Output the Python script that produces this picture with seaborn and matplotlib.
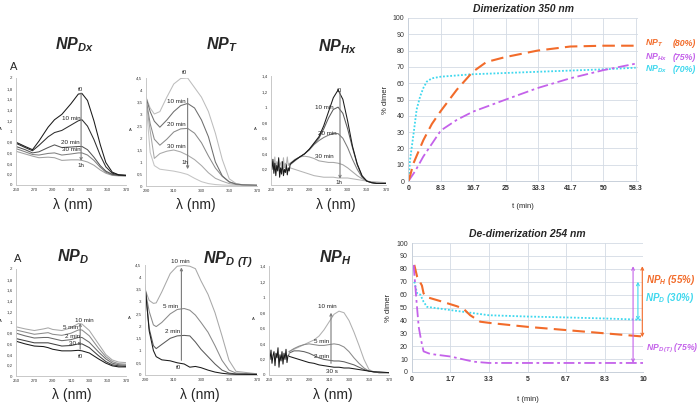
import numpy as np
import matplotlib
matplotlib.use("Agg")
import matplotlib.pyplot as plt
import seaborn as sns

# ---------------- data ----------------
# NP_Dx spectra (top left)
dx_wl = [250, 260, 268, 275, 285, 292, 300, 310, 318, 322, 328, 335, 342, 348, 355, 362, 370]
dx_t0 = [0.80, 0.72, 0.66, 0.82, 1.08, 1.22, 1.32, 1.52, 1.70, 1.71, 1.58, 1.20, 0.75, 0.42, 0.24, 0.19, 0.18]
dx_10 = [0.78, 0.70, 0.64, 0.74, 0.90, 0.98, 1.02, 1.12, 1.20, 1.22, 1.10, 0.85, 0.55, 0.34, 0.22, 0.19, 0.18]
dx_20 = [0.72, 0.66, 0.60, 0.62, 0.70, 0.75, 0.70, 0.71, 0.72, 0.72, 0.66, 0.52, 0.36, 0.26, 0.20, 0.18, 0.18]
dx_30 = [0.68, 0.62, 0.57, 0.56, 0.59, 0.60, 0.56, 0.58, 0.60, 0.60, 0.56, 0.46, 0.33, 0.24, 0.19, 0.18, 0.17]
dx_1h = [0.63, 0.58, 0.54, 0.51, 0.52, 0.51, 0.46, 0.47, 0.47, 0.46, 0.43, 0.37, 0.28, 0.22, 0.18, 0.17, 0.17]

# NP_T spectra
t_wl = [290, 293, 296, 300, 305, 310, 315, 320, 325, 330, 335, 340, 345, 350, 355, 360, 370]
t_t0 = [3.70, 3.25, 3.00, 3.10, 3.70, 4.25, 4.48, 4.50, 4.10, 3.70, 3.10, 2.20, 1.10, 0.30, 0.10, 0.05, 0.03]
t_10 = [3.70, 3.10, 2.70, 2.45, 2.75, 3.10, 3.35, 3.44, 3.25, 2.75, 2.05, 1.00, 0.42, 0.17, 0.08, 0.05, 0.03]
t_20 = [3.65, 2.60, 1.95, 1.70, 1.95, 2.25, 2.38, 2.40, 2.20, 1.80, 1.25, 0.75, 0.40, 0.17, 0.08, 0.05, 0.03]
t_30 = [3.55, 2.30, 1.15, 1.35, 1.45, 1.50, 1.42, 1.28, 1.10, 0.85, 0.55, 0.32, 0.20, 0.10, 0.06, 0.04, 0.03]
t_1h = [3.50, 1.40, 0.85, 0.70, 0.66, 0.62, 0.56, 0.48, 0.32, 0.18, 0.10, 0.06, 0.04, 0.03, 0.03, 0.02, 0.02]

# NP_Hx spectra (noisy part below 270 nm kept separately)
noise_wl = [250, 251, 252, 253, 254, 255, 256, 257, 258, 259, 260,
            261, 262, 263, 264, 265, 266, 267, 268, 269, 270]
hx_noise_dark = [0.30, 0.20, 0.33, 0.15, 0.28, 0.12, 0.25, 0.18, 0.35, 0.10, 0.22,
                 0.14, 0.30, 0.12, 0.20, 0.16, 0.26, 0.13, 0.22, 0.18, 0.27]
hx_noise_light = [0.34, 0.26, 0.30, 0.22, 0.36, 0.20, 0.30, 0.25, 0.33, 0.22, 0.28,
                  0.30, 0.24, 0.35, 0.22, 0.28, 0.26, 0.36, 0.25, 0.28, 0.27]
hx_wl = [270, 275, 280, 285, 290, 295, 300, 305, 310, 315, 320, 325, 330, 335, 340, 345, 350, 355, 360, 370]
hx_t0 = [0.27, 0.32, 0.36, 0.40, 0.46, 0.54, 0.62, 0.76, 0.94, 1.12, 1.22, 1.10, 0.82, 0.50, 0.27, 0.12, 0.05, 0.03, 0.02, 0.02]
hx_10 = [0.27, 0.32, 0.36, 0.40, 0.46, 0.53, 0.60, 0.72, 0.86, 0.97, 1.00, 0.92, 0.72, 0.48, 0.26, 0.11, 0.05, 0.03, 0.02, 0.02]
hx_20 = [0.26, 0.31, 0.36, 0.40, 0.45, 0.52, 0.57, 0.61, 0.64, 0.66, 0.66, 0.60, 0.48, 0.33, 0.20, 0.10, 0.05, 0.03, 0.02, 0.02]
hx_30 = [0.28, 0.33, 0.36, 0.37, 0.36, 0.34, 0.31, 0.30, 0.29, 0.29, 0.28, 0.26, 0.22, 0.17, 0.12, 0.08, 0.05, 0.04, 0.03, 0.03]
hx_1h = [0.22, 0.20, 0.18, 0.16, 0.14, 0.12, 0.11, 0.10, 0.10, 0.10, 0.09, 0.09, 0.09, 0.08, 0.07, 0.06, 0.05, 0.04, 0.04, 0.03]

# NP_D spectra (bottom left)
d_wl = [250, 260, 270, 280, 285, 290, 300, 310, 318, 322, 330, 340, 348, 355, 362, 370]
d_10m = [0.92, 0.88, 0.85, 0.88, 0.90, 0.87, 0.85, 0.90, 0.98, 0.97, 0.85, 0.60, 0.40, 0.30, 0.26, 0.25]
d_5m = [0.86, 0.82, 0.78, 0.80, 0.81, 0.78, 0.76, 0.80, 0.86, 0.86, 0.75, 0.52, 0.36, 0.27, 0.23, 0.22]
d_2m = [0.80, 0.75, 0.71, 0.72, 0.72, 0.70, 0.66, 0.68, 0.72, 0.72, 0.63, 0.45, 0.32, 0.24, 0.21, 0.20]
d_30s = [0.70, 0.66, 0.62, 0.62, 0.62, 0.60, 0.56, 0.57, 0.60, 0.60, 0.53, 0.38, 0.27, 0.21, 0.19, 0.18]
d_t0 = [0.65, 0.60, 0.56, 0.55, 0.53, 0.50, 0.47, 0.47, 0.48, 0.47, 0.43, 0.32, 0.24, 0.19, 0.17, 0.17]

# NP_D(T) spectra
dt_wl = [290, 293, 296, 298, 302, 308, 313, 318, 322, 326, 330, 335, 340, 345, 350, 355, 370]
dt_10m = [3.50, 3.05, 2.93, 2.95, 3.40, 4.15, 4.45, 4.48, 4.45, 4.35, 3.85, 3.30, 2.55, 1.60, 0.60, 0.15, 0.05]
dt_5m = [3.50, 2.60, 2.05, 1.98, 2.15, 2.50, 2.68, 2.72, 2.65, 2.45, 2.15, 1.75, 1.20, 0.60, 0.20, 0.08, 0.04]
dt_2m = [3.60, 1.90, 1.20, 1.08, 1.25, 1.50, 1.60, 1.62, 1.60, 1.35, 1.05, 0.75, 0.45, 0.20, 0.08, 0.04, 0.03]
dt_t0 = [3.70, 1.80, 1.00, 0.75, 0.62, 0.58, 0.50, 0.45, 0.32, 0.35, 0.30, 0.20, 0.12, 0.07, 0.04, 0.03, 0.02]

# NP_H spectra
h_noise = [0.28, 0.20, 0.32, 0.15, 0.25, 0.30, 0.12, 0.28, 0.22, 0.35, 0.10,
           0.26, 0.18, 0.30, 0.14, 0.28, 0.20, 0.33, 0.16, 0.25, 0.26]
h_wl = [270, 275, 280, 285, 290, 295, 300, 305, 310, 315, 320, 325, 330, 335, 340, 345, 350, 355, 360, 370]
h_10m = [0.30, 0.33, 0.36, 0.39, 0.42, 0.45, 0.50, 0.58, 0.68, 0.78, 0.82, 0.80, 0.70, 0.55, 0.38, 0.20, 0.07, 0.04, 0.03, 0.03]
h_5m = [0.30, 0.34, 0.37, 0.39, 0.40, 0.39, 0.38, 0.38, 0.39, 0.40, 0.39, 0.36, 0.30, 0.22, 0.15, 0.09, 0.05, 0.04, 0.03, 0.03]
h_2m = [0.28, 0.31, 0.31, 0.30, 0.28, 0.25, 0.22, 0.20, 0.19, 0.18, 0.18, 0.17, 0.15, 0.13, 0.10, 0.07, 0.05, 0.04, 0.03, 0.03]
h_30s = [0.24, 0.22, 0.20, 0.18, 0.16, 0.15, 0.13, 0.12, 0.11, 0.10, 0.10, 0.09, 0.09, 0.08, 0.07, 0.06, 0.05, 0.04, 0.04, 0.03]

# Dimerization kinetics at 350 nm (t in min, % dimer)
dim_T_t = [0, 0.5, 1.3, 3.8, 6, 8.3, 12.4, 16.5, 20, 24.8, 33.1, 41.5, 50, 58.3]
dim_T_y = [0, 4, 11, 25, 35, 43, 56, 67, 73, 76, 80, 82.5, 83, 83]
dim_Hx_t = [0, 1.7, 3.8, 8.3, 12.4, 16.5, 25, 33.1, 41.5, 50, 58.3]
dim_Hx_y = [0, 6, 15, 31, 37.5, 42.5, 50, 57, 63, 68, 72]
dim_Dx_t = [0, 0.4, 1.3, 2.1, 3, 3.8, 4.7, 6, 8.3, 16.5, 33.1, 50, 58.3]
dim_Dx_y = [0, 13, 29, 44, 52, 57, 61, 63, 64, 65.5, 67, 68.5, 69.5]
dim_ticks = [0, 25 / 3, 50 / 3, 25, 100 / 3, 125 / 3, 50, 175 / 3]
dim_tick_labels = ["0", "8.3", "16.7", "25", "33.3", "41.7", "50", "58.3"]

# De-dimerization kinetics at 254 nm
dd_H_t = [0.1, 0.22, 0.43, 0.5, 0.65, 1.22, 1.94, 2.23, 2.52, 2.95, 3.38, 5, 6.67, 8.33, 10]
dd_H_y = [83, 74, 67, 61, 58, 55, 51, 49, 44, 39, 38, 35, 32.5, 30, 27.5]
dd_D_t = [0.1, 0.22, 0.36, 0.5, 0.65, 1.67, 3.33, 5, 6.67, 8.33, 10]
dd_D_y = [70, 61, 60, 54.5, 50.5, 48, 44, 43, 42.3, 41.5, 40.5]
dd_DT_t = [0.07, 0.19, 0.29, 0.39, 0.5, 0.79, 1.67, 2.66, 3.33, 5, 6.67, 8.33, 10]
dd_DT_y = [83, 56, 35, 25, 16, 14, 12, 8, 7, 7, 7, 7, 7]
dd_ticks = [0, 5 / 3, 10 / 3, 5, 20 / 3, 25 / 3, 10]
dd_tick_labels = ["0", "1.7", "3.3", "5", "6.7", "8.3", "10"]

# ---------------- styling ----------------
sns.set_style("white")
plt.rcParams['font.family'] = ['Liberation Sans', 'DejaVu Sans']
plt.rcParams['mathtext.default'] = 'regular'

ORANGE = '#F26B2A'
VIOLET = '#C462EA'
CYAN = '#3FD8EE'

W, H = 700, 409
fig = plt.figure(figsize=(W / 100, H / 100), dpi=100)


def px_axes(left, top, right, bottom):
    return fig.add_axes([left / W, 1 - bottom / H, (right - left) / W, (bottom - top) / H])


def spectra(rect, wl, series, colors, xticks, ymax, ystep, zero_label=True):
    ax = px_axes(*rect)
    for vals, col in zip(series, colors):
        sns.lineplot(x=wl, y=vals, ax=ax, color=col, lw=0.75)
    ax.set_xlim(xticks[0], xticks[-1])
    ax.set_ylim(0, ymax)
    ax.set_xticks(xticks)
    ax.set_xticklabels([str(v) for v in xticks])
    yt = np.arange(0, ymax + 1e-9, ystep)
    ax.set_yticks(yt)
    labs = [f"{v:g}".replace('.', ',') for v in yt]
    if not zero_label:
        labs[0] = ''
    ax.set_yticklabels(labs)
    ax.tick_params(labelsize=3.2, length=0, pad=2.5, colors='#3a3a3a')
    for s in ['top', 'right']:
        ax.spines[s].set_visible(False)
    for s in ['left', 'bottom']:
        ax.spines[s].set_color('#c8c8c8')
        ax.spines[s].set_linewidth(0.7)
    ax.set_xlabel('')
    ax.set_ylabel('A', fontsize=3, rotation=0, labelpad=4)
    return ax


def arrow(ax, x, y0, y1):
    ax.annotate('', xy=(x, y1), xytext=(x, y0),
                arrowprops=dict(arrowstyle='->', color='#7a7a7a', lw=0.8, mutation_scale=4,
                                shrinkA=0, shrinkB=0))


def labels(ax, items):
    for txt, x, y in items:
        ax.text(x, y, txt, fontsize=4.5, color='#222222', ha='center', va='center')


# ---- NP_Dx
ax1 = spectra((16, 78, 126, 185), dx_wl, [dx_1h, dx_30, dx_20, dx_10, dx_t0],
              ['#a0a0a0', '#808080', '#555555', '#2e2e2e', '#1a1a1a'],
              [250, 270, 290, 310, 330, 350, 370], 2, 0.2)
arrow(ax1, 321, 1.72, 0.45)
labels(ax1, [('t0', 320, 1.79), ('10 min', 310, 1.25), ('20 min', 309, 0.79),
             ('30 min', 310, 0.66), ('1h', 321, 0.37)])

# ---- NP_T
ax2 = spectra((146, 78, 257, 186), t_wl, [t_1h, t_30, t_20, t_t0, t_10],
              ['#c4c4c4', '#a8a8a8', '#8a8a8a', '#bdbdbd', '#6e6e6e'],
              [290, 310, 330, 350, 370], 4.5, 0.5)
arrow(ax2, 320, 3.65, 0.7)
labels(ax2, [('t0', 318, 4.75), ('10 min', 312, 3.53), ('20 min', 312, 2.55),
             ('30 min', 311.5, 1.65), ('1h', 318, 1.0)])

# ---- NP_Hx
ax3 = spectra((271, 76, 386, 185), hx_wl, [hx_1h, hx_30, hx_20, hx_10, hx_t0],
              ['#b5b5b5', '#a5a5a5', '#7a7a7a', '#5a5a5a', '#1a1a1a'],
              [250, 270, 290, 310, 330, 350, 370], 1.4, 0.2, zero_label=False)
sns.lineplot(x=noise_wl, y=hx_noise_light, ax=ax3, color='#b0b0b0', lw=0.75)
sns.lineplot(x=noise_wl, y=hx_noise_dark, ax=ax3, color='#1a1a1a', lw=0.75)
ax3.set_ylabel('A', fontsize=3, rotation=0, labelpad=4)
arrow(ax3, 322, 1.2, 0.08)
labels(ax3, [('t0', 321, 1.22), ('10 min', 306, 1.0), ('20 min', 309, 0.66),
             ('30 min', 306, 0.36), ('1h', 321, 0.03)])

# ---- NP_D
ax4 = spectra((16, 269, 126, 376), d_wl, [d_10m, d_5m, d_2m, d_30s, d_t0],
              ['#a8a8a8', '#8c8c8c', '#6a6a6a', '#404040', '#1a1a1a'],
              [250, 270, 290, 310, 330, 350, 370], 2, 0.2)
arrow(ax4, 320, 0.5, 0.99)
labels(ax4, [('10 min', 324, 1.03), ('5 min', 310, 0.91), ('2 min', 312, 0.74),
             ('30 s', 314, 0.61), ('t0', 320, 0.36)])

# ---- NP_D(T)
ax5 = spectra((145, 265, 257, 375), dt_wl, [dt_10m, dt_5m, dt_2m, dt_t0],
              ['#a8a8a8', '#8a8a8a', '#5a5a5a', '#1a1a1a'],
              [290, 310, 330, 350, 370], 4.5, 0.5)
arrow(ax5, 316, 0.6, 4.4)
labels(ax5, [('10 min', 315, 4.65), ('5 min', 308, 2.8), ('2 min', 310, 1.77),
             ('t0', 314, 0.3)])

# ---- NP_H
ax6 = spectra((269, 266, 389, 375), h_wl, [h_10m, h_5m, h_2m, h_30s],
              ['#b0b0b0', '#8a8a8a', '#606060', '#1a1a1a'],
              [250, 270, 290, 310, 330, 350, 370], 1.4, 0.2)
sns.lineplot(x=noise_wl, y=h_noise, ax=ax6, color='#1a1a1a', lw=0.75)
ax6.set_ylabel('A', fontsize=3, rotation=0, labelpad=4)
arrow(ax6, 312, 0.15, 0.8)
labels(ax6, [('10 min', 308, 0.88), ('5 min', 303, 0.43), ('2 min', 303, 0.24),
             ('30 s', 313, 0.04)])


# ---------------- kinetics panels ----------------
def kinetics(rect, xmax, ticks, tick_labels):
    ax = px_axes(*rect)
    ax.set_xlim(0, xmax)
    ax.set_ylim(0, 100)
    ax.set_xticks(ticks)
    ax.set_xticklabels(tick_labels, fontweight='bold')
    ax.set_yticks(range(0, 101, 10))
    ax.grid(True, color='#d3dbe4', lw=0.6)
    ax.tick_params(labelsize=5, length=0, pad=3, colors='#333333')
    for s in ['top', 'right']:
        ax.spines[s].set_visible(False)
    for s in ['left', 'bottom']:
        ax.spines[s].set_color('#c8d0da')
        ax.spines[s].set_linewidth(0.7)
    return ax


side_kw = dict(fontweight='bold', style='italic', va='center')

ax7 = kinetics((408.5, 18, 638, 181), 58.9, dim_ticks, dim_tick_labels)
sns.lineplot(x=dim_Dx_t, y=dim_Dx_y, ax=ax7, color=CYAN, lw=1.3, linestyle=(0, (1, 1)))
sns.lineplot(x=dim_Hx_t, y=dim_Hx_y, ax=ax7, color=VIOLET, lw=1.3, linestyle=(0, (6, 2, 1.5, 2)))
sns.lineplot(x=dim_T_t, y=dim_T_y, ax=ax7, color=ORANGE, lw=1.5, linestyle=(0, (6, 3)))
ax7.set_title('Dimerization 350 nm', fontsize=7.5, fontweight='bold', style='italic', pad=4)
ax7.set_xlabel('t (min)', fontsize=5.5, labelpad=8)
ax7.set_ylabel('% dimer', fontsize=5.5, labelpad=3)
for txt, pct, y, col in [('NP$_T$', '(80%)', 84.5, ORANGE), ('NP$_{Hx}$', '(75%)', 76, VIOLET),
                         ('NP$_{Dx}$', '(70%)', 68.5, CYAN)]:
    ax7.text(60.6, y, txt, color=col, fontsize=6.3, **side_kw)
    ax7.text(67.9, y, pct, color=col, fontsize=6.3, **side_kw)

ax8 = kinetics((412, 243, 643, 372), 10, dd_ticks, dd_tick_labels)
sns.lineplot(x=dd_D_t, y=dd_D_y, ax=ax8, color=CYAN, lw=1.3, linestyle=(0, (1, 1)))
sns.lineplot(x=dd_H_t, y=dd_H_y, ax=ax8, color=ORANGE, lw=1.5, linestyle=(0, (6, 3)))
sns.lineplot(x=dd_DT_t, y=dd_DT_y, ax=ax8, color=VIOLET, lw=1.3, linestyle=(0, (6, 2, 1.5, 2)))
ax8.set_title('De-dimerization 254 nm', fontsize=7.5, fontweight='bold', style='italic', pad=4)
ax8.set_xlabel('t (min)', fontsize=5.5, labelpad=9)
ax8.set_ylabel('% dimer', fontsize=5.5, labelpad=3)
for x, y0, y1, col in [(9.57, 7, 82, VIOLET), (9.78, 40, 70, CYAN), (9.97, 27, 82, ORANGE)]:
    ax8.annotate('', xy=(x, y1), xytext=(x, y0),
                 arrowprops=dict(arrowstyle='<->', color=col, lw=0.8, mutation_scale=5,
                                 shrinkA=0, shrinkB=0), annotation_clip=False)
ax8.text(10.15, 71.4, 'NP$_H$ (55%)', color=ORANGE, fontsize=7, **side_kw)
ax8.text(10.08, 57, 'NP$_D$ (30%)', color=CYAN, fontsize=7, **side_kw)
ax8.text(10.12, 18, 'NP$_{D\\,(T)}$ (75%)', color=VIOLET, fontsize=6.2, **side_kw)

# ---------------- panel titles and axis labels ----------------
title_kw = dict(fontsize=11.5, fontweight='bold', style='italic', ha='center', va='center')
fig.text(75 / W, 1 - 45 / H, 'NP$_{Dx}$', **title_kw)
fig.text(222 / W, 1 - 45 / H, 'NP$_T$', **title_kw)
fig.text(338 / W, 1 - 47 / H, 'NP$_{Hx}$', **title_kw)
fig.text(73 / W, 1 - 257 / H, 'NP$_D$', **title_kw)
fig.text(228 / W, 1 - 260 / H, 'NP$_{D\\ (T)}$', **title_kw)
fig.text(335 / W, 1 - 258 / H, 'NP$_H$', **title_kw)
fig.text(14 / W, 1 - 67 / H, 'A', fontsize=8, ha='center', va='center')
fig.text(18 / W, 1 - 259 / H, 'A', fontsize=8, ha='center', va='center')

for x, y in [(73, 205), (196, 205), (336, 205), (72, 395), (200, 395), (333, 395)]:
    fig.text(x / W, 1 - y / H, 'λ (nm)', fontsize=10, ha='center', va='center')

fig.savefig('out.png', dpi=100)
